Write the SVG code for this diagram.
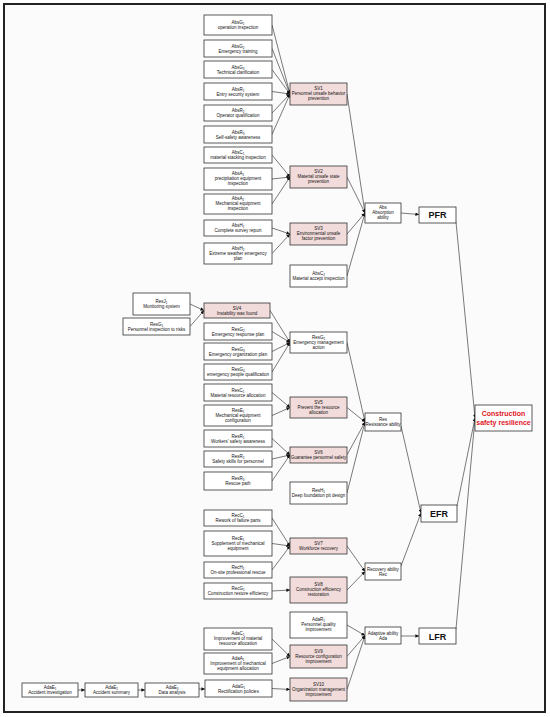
<svg xmlns="http://www.w3.org/2000/svg" width="550" height="717" viewBox="0 0 550 717">
<defs>
<marker id="ar" viewBox="0 0 6 6" refX="6" refY="3" markerWidth="3.6" markerHeight="3.6" markerUnits="userSpaceOnUse" orient="auto"><path d="M0,0 L6,3 L0,6 z" fill="#111"/></marker>
</defs>
<style>
.b{fill:#fff;stroke:#333;stroke-width:0.8}
.p{fill:#f2dcdb;stroke:#333;stroke-width:0.8}
.t{font-family:"Liberation Sans",Arial,sans-serif;font-size:4.5px;text-anchor:middle;fill:#111}
.s{font-size:3px}
.f{font-family:"Liberation Sans",Arial,sans-serif;font-size:9px;font-weight:bold;text-anchor:middle;fill:#111}
.r{font-family:"Liberation Sans",Arial,sans-serif;font-size:7px;font-weight:bold;text-anchor:middle;fill:#e0141e}
#cn line{stroke:#222;stroke-width:0.6;marker-end:url(#ar)}
</style>
<rect x="4" y="4" width="541" height="708" fill="#fbfbfb" stroke="#222" stroke-width="2"/>

<g id="cn">
<line x1="272" y1="25" x2="290" y2="94"/>
<line x1="272" y1="48.5" x2="290" y2="94"/>
<line x1="272" y1="69.5" x2="290" y2="94"/>
<line x1="272" y1="91.5" x2="290" y2="94"/>
<line x1="272" y1="113" x2="290" y2="94"/>
<line x1="272" y1="134.5" x2="290" y2="94"/>
<line x1="272" y1="155" x2="290" y2="177"/>
<line x1="272" y1="179" x2="290" y2="177"/>
<line x1="272" y1="204" x2="290" y2="177"/>
<line x1="272" y1="228" x2="290" y2="234"/>
<line x1="272" y1="253.5" x2="290" y2="234"/>
<line x1="347" y1="94" x2="365" y2="213"/>
<line x1="347" y1="177" x2="365" y2="213"/>
<line x1="347" y1="234" x2="365" y2="213"/>
<line x1="347" y1="276" x2="365" y2="213"/>
<line x1="401" y1="213" x2="419" y2="214.5"/>
<line x1="456" y1="222" x2="475" y2="418"/>
<line x1="190" y1="304" x2="204" y2="310.5"/>
<line x1="190" y1="326.5" x2="204" y2="310.5"/>
<line x1="270" y1="310.5" x2="290" y2="342.5"/>
<line x1="272" y1="331.5" x2="290" y2="342.5"/>
<line x1="272" y1="351.5" x2="290" y2="342.5"/>
<line x1="272" y1="372" x2="290" y2="342.5"/>
<line x1="272" y1="392.5" x2="290" y2="407.5"/>
<line x1="272" y1="415.5" x2="290" y2="407.5"/>
<line x1="272" y1="438.5" x2="290" y2="455"/>
<line x1="272" y1="459" x2="290" y2="455"/>
<line x1="272" y1="481" x2="290" y2="455"/>
<line x1="347" y1="342.5" x2="365" y2="422"/>
<line x1="347" y1="407.5" x2="365" y2="422"/>
<line x1="347" y1="455" x2="365" y2="422"/>
<line x1="347" y1="493" x2="365" y2="422"/>
<line x1="401" y1="426" x2="421" y2="513"/>
<line x1="457" y1="506" x2="475" y2="418"/>
<line x1="272" y1="518" x2="290" y2="546"/>
<line x1="272" y1="543.5" x2="290" y2="546"/>
<line x1="272" y1="570" x2="290" y2="546"/>
<line x1="272" y1="591" x2="290" y2="590"/>
<line x1="347" y1="546" x2="365" y2="571.5"/>
<line x1="347" y1="590" x2="365" y2="571.5"/>
<line x1="401" y1="566" x2="421" y2="513"/>
<line x1="272" y1="639" x2="290" y2="656.5"/>
<line x1="272" y1="663.5" x2="290" y2="656.5"/>
<line x1="78" y1="690" x2="85" y2="690"/>
<line x1="138" y1="690" x2="145" y2="690"/>
<line x1="199" y1="689" x2="205" y2="689"/>
<line x1="272" y1="688.5" x2="290" y2="689.5"/>
<line x1="347" y1="625" x2="365" y2="635.5"/>
<line x1="347" y1="656.5" x2="365" y2="635.5"/>
<line x1="347" y1="689.5" x2="365" y2="635.5"/>
<line x1="401" y1="636" x2="419" y2="636"/>
<line x1="456" y1="629" x2="475" y2="418"/>
</g>

<g id="AbsG1"><rect class="b" x="204" y="15" width="68" height="20"/><text class="t" x="238" y="24">AbsG<tspan class="s" dy="1">1</tspan></text><text class="t" x="238" y="29.2">operation inspection</text></g>
<g id="AbsG2"><rect class="b" x="204" y="40" width="68" height="17"/><text class="t" x="238" y="47.5">AbsG<tspan class="s" dy="1">2</tspan></text><text class="t" x="238" y="52.7">Emergency training</text></g>
<g id="AbsG3"><rect class="b" x="204" y="61" width="68" height="17"/><text class="t" x="238" y="68.5">AbsG<tspan class="s" dy="1">3</tspan></text><text class="t" x="238" y="73.7">Technical clarification</text></g>
<g id="AbsR1"><rect class="b" x="204" y="83" width="68" height="17"/><text class="t" x="238" y="90.5">AbsR<tspan class="s" dy="1">1</tspan></text><text class="t" x="238" y="95.7">Entry security system</text></g>
<g id="AbsR2"><rect class="b" x="204" y="105" width="68" height="16"/><text class="t" x="238" y="112">AbsR<tspan class="s" dy="1">2</tspan></text><text class="t" x="238" y="117.2">Operator qualification</text></g>
<g id="AbsR3"><rect class="b" x="204" y="126" width="68" height="17"/><text class="t" x="238" y="133.5">AbsR<tspan class="s" dy="1">3</tspan></text><text class="t" x="238" y="138.7">Self-safety awareness</text></g>
<g id="AbsC1"><rect class="b" x="204" y="147" width="68" height="16"/><text class="t" x="238" y="154">AbsC<tspan class="s" dy="1">1</tspan></text><text class="t" x="238" y="159.2">material stacking inspection</text></g>
<g id="AbsA1"><rect class="b" x="204" y="168" width="68" height="22"/><text class="t" x="238" y="175.2">AbsA<tspan class="s" dy="1">1</tspan></text><text class="t" x="238" y="180.2">precipitation equipment</text><text class="t" x="238" y="185.2">inspection</text></g>
<g id="AbsA2"><rect class="b" x="204" y="194" width="68" height="20"/><text class="t" x="238" y="200.2">AbsA<tspan class="s" dy="1">2</tspan></text><text class="t" x="238" y="205.2">Mechanical equipment</text><text class="t" x="238" y="210.2">inspection</text></g>
<g id="AbsH1"><rect class="b" x="204" y="220" width="68" height="16"/><text class="t" x="238" y="227">AbsH<tspan class="s" dy="1">1</tspan></text><text class="t" x="238" y="232.2">Complete survey report</text></g>
<g id="AbsH2"><rect class="b" x="204" y="243" width="68" height="21"/><text class="t" x="238" y="249.7">AbsH<tspan class="s" dy="1">2</tspan></text><text class="t" x="238" y="254.7">Extreme weather emergency</text><text class="t" x="238" y="259.7">plan</text></g>

<g id="SV1"><rect class="p" x="290" y="83" width="57" height="22"/><text class="t" x="318.5" y="90.2">SV1</text><text class="t" x="318.5" y="95.2">Personnel unsafe behavior</text><text class="t" x="318.5" y="100.2">prevention</text></g>
<g id="SV2"><rect class="p" x="290" y="166" width="57" height="22"/><text class="t" x="318.5" y="173.2">SV2</text><text class="t" x="318.5" y="178.2">Material unsafe state</text><text class="t" x="318.5" y="183.2">prevention</text></g>
<g id="SV3"><rect class="p" x="290" y="223" width="57" height="22"/><text class="t" x="318.5" y="230.2">SV3</text><text class="t" x="318.5" y="235.2">Environmental unsafe</text><text class="t" x="318.5" y="240.2">factor prevention</text></g>
<g id="AbsC2"><rect class="b" x="290" y="265" width="57" height="22"/><text class="t" x="318.5" y="275">AbsC<tspan class="s" dy="1">2</tspan></text><text class="t" x="318.5" y="280.2">Material accept inspection</text></g>
<g id="Abs"><rect class="b" x="365" y="203" width="36" height="20"/><text class="t" x="383" y="209.2">Abs</text><text class="t" x="383" y="214.2">Absorption</text><text class="t" x="383" y="219.2">ability</text></g>
<g id="PFR"><rect class="b" x="419" y="207" width="37" height="16"/><text class="f" x="437.5" y="218.3">PFR</text></g>

<g id="ResJ1"><rect class="b" x="133" y="293" width="57" height="22"/><text class="t" x="161.5" y="303">ResJ<tspan class="s" dy="1">1</tspan></text><text class="t" x="161.5" y="308.2">Monitoring  system</text></g>
<g id="ResG1"><rect class="b" x="123" y="318" width="67" height="17"/><text class="t" x="156.5" y="325.5">ResG<tspan class="s" dy="1">1</tspan></text><text class="t" x="156.5" y="330.7">Personnel inspection to risks</text></g>
<g id="SV4"><rect class="p" x="204" y="303" width="66" height="15"/><text class="t" x="237" y="309.5">SV4</text><text class="t" x="237" y="314.7">Instability was found</text></g>
<g id="ResG2"><rect class="b" x="204" y="323" width="68" height="17"/><text class="t" x="238" y="330.5">ResG<tspan class="s" dy="1">2</tspan></text><text class="t" x="238" y="335.7">Emergency response plan</text></g>
<g id="ResG3"><rect class="b" x="204" y="343" width="68" height="17"/><text class="t" x="238" y="350.5">ResG<tspan class="s" dy="1">3</tspan></text><text class="t" x="238" y="355.7">Emergency organization plan</text></g>
<g id="ResG4"><rect class="b" x="204" y="364" width="68" height="16"/><text class="t" x="238" y="371">ResG<tspan class="s" dy="1">4</tspan></text><text class="t" x="238" y="376.2">emergency people qualification</text></g>
<g id="ResG5"><rect class="b" x="290" y="332" width="57" height="21"/><text class="t" x="318.5" y="338.7">ResG<tspan class="s" dy="1">5</tspan></text><text class="t" x="318.5" y="343.7">Emergency management</text><text class="t" x="318.5" y="348.7">action</text></g>
<g id="ResC1"><rect class="b" x="204" y="384" width="68" height="17"/><text class="t" x="238" y="391.5">ResC<tspan class="s" dy="1">1</tspan></text><text class="t" x="238" y="396.7">Material resource allocation</text></g>
<g id="ResE1"><rect class="b" x="204" y="405" width="68" height="21"/><text class="t" x="238" y="411.7">ResE<tspan class="s" dy="1">1</tspan></text><text class="t" x="238" y="416.7">Mechanical equipment</text><text class="t" x="238" y="421.7">configuration</text></g>
<g id="ResR1"><rect class="b" x="204" y="430" width="68" height="17"/><text class="t" x="238" y="437.5">ResR<tspan class="s" dy="1">1</tspan></text><text class="t" x="238" y="442.7">Workers' safety awareness</text></g>
<g id="ResR2"><rect class="b" x="204" y="451" width="68" height="16"/><text class="t" x="238" y="458">ResR<tspan class="s" dy="1">2</tspan></text><text class="t" x="238" y="463.2">Safety skills for personnel</text></g>
<g id="ResR3"><rect class="b" x="204" y="472" width="68" height="18"/><text class="t" x="238" y="480">ResR<tspan class="s" dy="1">3</tspan></text><text class="t" x="238" y="485.2">Rescue path</text></g>
<g id="SV5"><rect class="p" x="290" y="397" width="57" height="21"/><text class="t" x="318.5" y="403.7">SV5</text><text class="t" x="318.5" y="408.7">Prevent the resource</text><text class="t" x="318.5" y="413.7">allocation</text></g>
<g id="SV6"><rect class="p" x="290" y="447" width="57" height="16"/><text class="t" x="318.5" y="454">SV6</text><text class="t" x="318.5" y="459.2">Guarantee personnel safety</text></g>
<g id="ResH1"><rect class="b" x="290" y="482" width="57" height="22"/><text class="t" x="318.5" y="492">ResH<tspan class="s" dy="1">1</tspan></text><text class="t" x="318.5" y="497.2">Deep foundation pit design</text></g>
<g id="Res"><rect class="b" x="365" y="413" width="36" height="18"/><text class="t" x="383" y="421">Res</text><text class="t" x="383" y="426.2">Resistance ability</text></g>
<g id="EFR"><rect class="b" x="421" y="505" width="36" height="17"/><text class="f" x="439" y="516.8">EFR</text></g>
<g id="CSR"><rect class="b" x="475" y="405" width="57" height="26"/><text class="r" x="503.5" y="415.5">Construction</text><text class="r" x="503.5" y="425">safety resilience</text></g>

<g id="RecC1"><rect class="b" x="204" y="510" width="68" height="16"/><text class="t" x="238" y="517">RecC<tspan class="s" dy="1">1</tspan></text><text class="t" x="238" y="522.2">Rework of failure parts</text></g>
<g id="RecE1"><rect class="b" x="204" y="531" width="68" height="25"/><text class="t" x="238" y="539.7">RecE<tspan class="s" dy="1">1</tspan></text><text class="t" x="238" y="544.7">Supplement of mechanical</text><text class="t" x="238" y="549.7">equipment</text></g>
<g id="RecH1"><rect class="b" x="204" y="562" width="68" height="16"/><text class="t" x="238" y="569">RecH<tspan class="s" dy="1">1</tspan></text><text class="t" x="238" y="574.2">On-site professional rescue</text></g>
<g id="RecG1"><rect class="b" x="204" y="583" width="68" height="16"/><text class="t" x="238" y="590">RecG<tspan class="s" dy="1">1</tspan></text><text class="t" x="238" y="595.2">Construction restore efficiency</text></g>
<g id="SV7"><rect class="p" x="290" y="538" width="57" height="16"/><text class="t" x="318.5" y="545">SV7</text><text class="t" x="318.5" y="550.2">Workforce recovery</text></g>
<g id="SV8"><rect class="p" x="290" y="577" width="57" height="26"/><text class="t" x="318.5" y="586.2">SV8</text><text class="t" x="318.5" y="591.2">Construction efficiency</text><text class="t" x="318.5" y="596.2">restoration</text></g>
<g id="Rec"><rect class="b" x="365" y="563" width="36" height="17"/><text class="t" x="383" y="570.5">Recovery ability</text><text class="t" x="383" y="575.7">Rec</text></g>

<g id="AdaR1"><rect class="b" x="290" y="612" width="57" height="26"/><text class="t" x="318.5" y="621.2">AdaR<tspan class="s" dy="1">1</tspan></text><text class="t" x="318.5" y="626.2">Personnel quality</text><text class="t" x="318.5" y="631.2">improvement</text></g>
<g id="AdaC1"><rect class="b" x="204" y="628" width="68" height="22"/><text class="t" x="238" y="635.2">AdaC<tspan class="s" dy="1">1</tspan></text><text class="t" x="238" y="640.2">Improvement of material</text><text class="t" x="238" y="645.2">resource allocation</text></g>
<g id="AdaA1"><rect class="b" x="204" y="653" width="68" height="21"/><text class="t" x="238" y="659.7">AdaA<tspan class="s" dy="1">1</tspan></text><text class="t" x="238" y="664.7">Improvement of mechanical</text><text class="t" x="238" y="669.7">equipment allocation</text></g>
<g id="AdaG1"><rect class="b" x="205" y="680" width="67" height="17"/><text class="t" x="238.5" y="687.5">AdaG<tspan class="s" dy="1">1</tspan></text><text class="t" x="238.5" y="692.7">Rectification policies</text></g>
<g id="SV9"><rect class="p" x="290" y="645" width="57" height="23"/><text class="t" x="318.5" y="652.7">SV9</text><text class="t" x="318.5" y="657.7">Resource configuration</text><text class="t" x="318.5" y="662.7">improvement</text></g>
<g id="SV10"><rect class="p" x="290" y="678" width="57" height="23"/><text class="t" x="318.5" y="685.7">SV10</text><text class="t" x="318.5" y="690.7">Organization management</text><text class="t" x="318.5" y="695.7">improvement</text></g>
<g id="Ada"><rect class="b" x="365" y="627" width="36" height="17"/><text class="t" x="383" y="634.5">Adaptive ability</text><text class="t" x="383" y="639.7">Ada</text></g>
<g id="LFR"><rect class="b" x="419" y="628" width="37" height="16"/><text class="f" x="437.5" y="639.5">LFR</text></g>
<g id="AdaE1"><rect class="b" x="22" y="683" width="56" height="14"/><text class="t" x="50" y="689">AdaE<tspan class="s" dy="1">1</tspan></text><text class="t" x="50" y="694.2">Accident investigation</text></g>
<g id="AdaE2"><rect class="b" x="85" y="683" width="53" height="14"/><text class="t" x="111.5" y="689">AdaE<tspan class="s" dy="1">2</tspan></text><text class="t" x="111.5" y="694.2">Accident summary</text></g>
<g id="AdaE3"><rect class="b" x="145" y="683" width="54" height="14"/><text class="t" x="172" y="689">AdaE<tspan class="s" dy="1">3</tspan></text><text class="t" x="172" y="694.2">Data analysis</text></g>
</svg>
